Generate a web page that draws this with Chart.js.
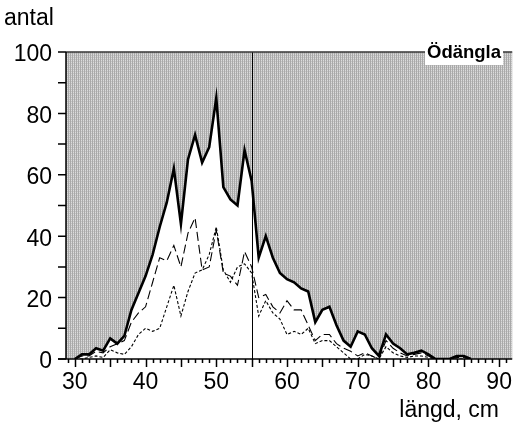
<!DOCTYPE html>
<html>
<head>
<meta charset="utf-8">
<script src="https://cdn.jsdelivr.net/npm/chart.js@4.4.1/dist/chart.umd.min.js"></script>
<style>
  body { margin: 0; background: #fff; }
  #wrap { width: 522px; height: 424px; position: relative; }
</style>
</head>
<body>
<div id="wrap"><canvas id="lengthChart"></canvas></div>
<script>
// length classes (cm)
const lengths = [30, 31, 32, 33, 34, 35, 36, 37, 38, 39, 40, 41, 42, 43, 44, 45, 46, 47, 48, 49,
  50, 51, 52, 53, 54, 55, 56, 57, 58, 59, 60, 61, 62, 63, 64, 65, 66, 67, 68, 69,
  70, 71, 72, 73, 74, 75, 76, 77, 78, 79, 80, 81, 82, 83, 84, 85, 86];

// total catch (thick line, white area)
const totalCount = [0, 1.5, 1.5, 3.5, 2.7, 6.7, 5, 7.5, 16, 21.5, 27, 34, 43, 51, 62, 44, 65, 73, 64, 69,
  85, 56, 52, 50, 68, 58, 33, 40, 33, 28, 26, 25, 23, 22, 12, 16, 17, 11, 6, 4,
  9, 8, 3.5, 1, 8, 5, 3.5, 1.5, 2, 2.7, 1.5, 0, 0, 0, 1, 1, 0];

// long dashed series
const dashedCount = [0, 1, 1, 2.5, 2, 4, 5, 6, 12, 15, 17, 25, 33, 32, 37, 30, 41, 46, 29, 30,
  42, 28, 27, 24, 35, 30, 20, 21, 17, 15, 19, 16, 16, 11, 6, 8, 8, 5, 3.5, 2.5,
  1, 2, 1, 0, 6, 3.5, 2, 1, 1.5, 2, 1, 0, 0, 0, 0.5, 0.5, 0];

// short dashed series
const dottedCount = [0, 0, 0.5, 1, 0.5, 3, 2, 1.5, 4, 8, 10, 9, 10, 17, 24, 14, 22, 28, 29, 34,
  43, 29, 25, 30, 31, 28, 14, 19, 15, 13, 8, 9, 8, 10, 5, 6, 6, 4, 2, 0,
  0, 1.5, 1, 0, 4, 2, 1, 0.5, 1, 1, 0.5, 0, 0, 0, 0, 0, 0];

const xTicks = [30, 40, 50, 60, 70, 80, 90];
const yTicks = [0, 20, 40, 60, 80, 100];
const markerLength = 55; // vertical reference line
const areaName = 'Ödängla';

const FONT = '"Liberation Sans", Arial, sans-serif';

const toPoints = (ys) => lengths.map((x, i) => ({ x: x, y: ys[i] }));

// grey hatch used as plot background
const makeHatch = (ctx) => {
  const c = document.createElement('canvas');
  c.width = 2; c.height = 2;
  const p = c.getContext('2d');
  p.fillStyle = '#dcdcdc'; p.fillRect(0, 0, 2, 2);
  p.fillStyle = '#a9a9a9'; p.fillRect(0, 0, 1, 2);
  p.fillStyle = '#c4c4c4'; p.fillRect(1, 1, 1, 1);
  return ctx.createPattern(c, 'repeat');
};

const decorations = {
  id: 'decorations',
  beforeDraw(chart) {
    const { ctx, chartArea: a } = chart;
    ctx.save();
    ctx.fillStyle = makeHatch(ctx);
    ctx.fillRect(a.left, a.top, a.right - a.left, a.bottom - a.top);
    ctx.restore();
  },
  afterDatasetsDraw(chart) {
    const { ctx, chartArea: a, scales: { x, y } } = chart;
    ctx.save();

    // reference line
    const mx = Math.round(x.getPixelForValue(markerLength)) + 0.5;
    ctx.strokeStyle = '#000';
    ctx.lineWidth = 1;
    ctx.beginPath();
    ctx.moveTo(mx, a.top); ctx.lineTo(mx, a.bottom);
    ctx.stroke();

    // top border
    ctx.strokeStyle = '#333';
    ctx.lineWidth = 1.5;
    ctx.beginPath();
    ctx.moveTo(a.left, a.top); ctx.lineTo(a.right, a.top);
    ctx.stroke();

    // axes lines
    ctx.strokeStyle = '#000';
    ctx.lineWidth = 1.5;
    ctx.beginPath();
    ctx.moveTo(a.left, a.top); ctx.lineTo(a.left, a.bottom);
    ctx.moveTo(a.left - 8, a.bottom); ctx.lineTo(a.right, a.bottom);
    ctx.stroke();

    // y tick marks every 10
    ctx.beginPath();
    for (let v = 0; v <= 100; v += 10) {
      const py = y.getPixelForValue(v);
      ctx.moveTo(a.left - 8, py); ctx.lineTo(a.left, py);
    }
    // x tick marks every 1, longer every 5
    for (let v = 29; v <= 91; v++) {
      const px = Math.round(x.getPixelForValue(v)) + 0.5;
      const len = v % 5 === 0 ? 8 : 4;
      ctx.moveTo(px, a.bottom); ctx.lineTo(px, a.bottom + len);
    }
    ctx.stroke();

    // axis titles
    ctx.fillStyle = '#000';
    ctx.font = '23px ' + FONT;
    ctx.textBaseline = 'alphabetic';
    ctx.textAlign = 'left';
    ctx.fillText('antal', 4, 25);
    ctx.textAlign = 'right';
    ctx.fillText('längd, cm', 499, 417);

    // area label in white box
    ctx.font = 'bold 18.5px ' + FONT;
    const w = ctx.measureText(areaName).width;
    const bx = 503 - w - 4;
    ctx.fillStyle = '#fff';
    ctx.fillRect(bx, 41, w + 4, 24);
    ctx.fillStyle = '#000';
    ctx.textAlign = 'left';
    ctx.textBaseline = 'middle';
    ctx.fillText(areaName, bx + 2, 53);
    ctx.restore();
  }
};

const ctx = document.getElementById('lengthChart').getContext('2d');
new Chart(ctx, {
  type: 'line',
  data: {
    datasets: [
      {
        label: 'total',
        data: toPoints(totalCount),
        borderColor: '#000',
        borderWidth: 2.6,
        backgroundColor: '#fff',
        fill: 'origin',
        pointRadius: 0,
        tension: 0
      },
      {
        label: 'dashed',
        data: toPoints(dashedCount),
        borderColor: '#000',
        borderWidth: 1.1,
        borderDash: [9, 4],
        fill: false,
        pointRadius: 0,
        tension: 0
      },
      {
        label: 'dotted',
        data: toPoints(dottedCount),
        borderColor: '#000',
        borderWidth: 1.1,
        borderDash: [3, 2],
        fill: false,
        pointRadius: 0,
        tension: 0
      }
    ]
  },
  options: {
    responsive: true,
    maintainAspectRatio: false,
    devicePixelRatio: 1,
    animation: false,
    layout: { padding: { top: 52, right: 2, left: 0, bottom: 0 } },
    scales: {
      x: {
        type: 'linear',
        min: 28.75,
        max: 91.85,
        afterFit: (s) => { s.height = 65; },
        afterBuildTicks: (s) => { s.ticks = xTicks.map(v => ({ value: v })); },
        grid: { display: false, drawTicks: false },
        border: { display: false },
        ticks: {
          color: '#000',
          padding: 10,
          maxRotation: 0,
          autoSkip: false,
          font: { family: FONT, size: 23 }
        }
      },
      y: {
        min: 0,
        max: 100,
        afterFit: (s) => { s.width = 66; },
        afterBuildTicks: (s) => { s.ticks = yTicks.map(v => ({ value: v })); },
        grid: { display: false, drawTicks: false },
        border: { display: false },
        ticks: {
          color: '#000',
          padding: 14,
          labelOffset: 3,
          font: { family: FONT, size: 23 }
        }
      }
    },
    plugins: {
      legend: { display: false },
      tooltip: { enabled: false },
      filler: { drawTime: 'beforeDatasetsDraw' }
    }
  },
  plugins: [decorations]
});
</script>
</body>
</html>
